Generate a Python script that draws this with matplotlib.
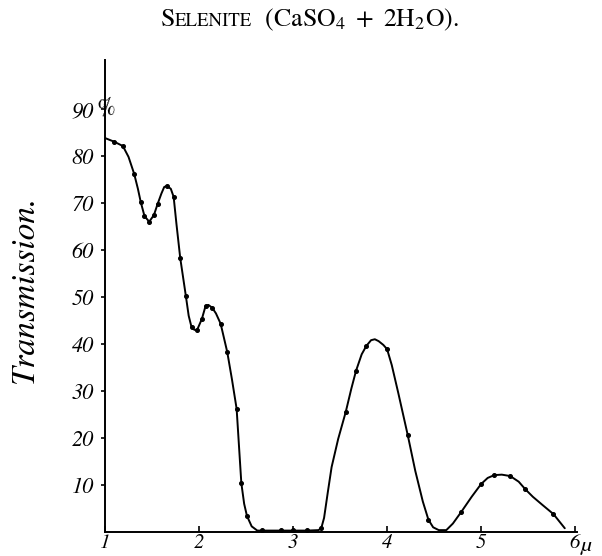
import matplotlib
matplotlib.use("Agg")
import matplotlib.pyplot as plt
from matplotlib.offsetbox import TextArea, HPacker, AnnotationBbox

plt.rcParams['mathtext.fontset'] = 'stix'
plt.rcParams['font.family'] = ['STIXGeneral', 'DejaVu Serif']

# Measured points (dots)
pt_x = [1.10, 1.19, 1.31, 1.38, 1.42, 1.47, 1.52, 1.56, 1.66, 1.73, 1.80, 1.86,
        1.92, 1.98, 2.03, 2.07, 2.14, 2.23, 2.30, 2.40, 2.45, 2.51, 2.67, 2.87,
        3.00, 3.15, 3.30, 3.56, 3.67, 3.78, 4.00, 4.22, 4.44, 4.79, 5.00, 5.14,
        5.31, 5.47, 5.77]
pt_y = [83.0, 82.1, 76.2, 70.2, 67.2, 66.0, 67.4, 69.8, 73.6, 71.3, 58.3, 50.2,
        43.6, 43.0, 45.3, 48.1, 47.7, 44.3, 38.3, 26.2, 10.4, 3.4, 0.4, 0.4,
        0.4, 0.4, 0.8, 25.5, 34.3, 39.6, 38.9, 20.6, 2.6, 4.3, 10.2, 12.1,
        11.9, 9.1, 3.8]

# Drawn curve
curve_x = [1.00, 1.10, 1.19, 1.25, 1.31, 1.35, 1.38, 1.42, 1.47, 1.52, 1.56, 1.60,
           1.63, 1.66, 1.70, 1.73, 1.76, 1.80, 1.86, 1.89, 1.92, 1.95, 1.98, 2.03,
           2.07, 2.10, 2.14, 2.18, 2.23, 2.30, 2.35, 2.40, 2.45, 2.48, 2.51, 2.56,
           2.62, 2.67, 2.87, 3.00, 3.15, 3.27, 3.30, 3.33, 3.37, 3.41, 3.48, 3.56,
           3.62, 3.67, 3.73, 3.78, 3.83, 3.87, 3.91, 3.96, 4.00, 4.05, 4.12, 4.22,
           4.30, 4.38, 4.44, 4.49, 4.55, 4.63, 4.70, 4.79, 4.90, 5.00, 5.07, 5.14,
           5.22, 5.31, 5.40, 5.47, 5.55, 5.65, 5.77, 5.89]
curve_y = [83.8, 83.0, 82.1, 79.8, 76.2, 73.0, 70.2, 67.2, 66.0, 67.4, 69.8, 72.0,
           73.4, 73.6, 73.0, 71.3, 65.5, 58.3, 50.2, 46.0, 43.6, 43.0, 43.0, 45.3,
           48.1, 48.3, 47.7, 46.5, 44.3, 38.3, 32.5, 26.2, 10.4, 6.0, 3.4, 1.2,
           0.3, 0.3, 0.3, 0.3, 0.3, 0.4, 0.8, 3.0, 8.5, 13.8, 19.8, 25.5,
           30.5, 34.3, 37.8, 39.6, 40.8, 41.0, 40.6, 39.8, 38.9, 35.5, 29.5, 20.6,
           13.0, 6.5, 2.6, 1.0, 0.4, 0.4, 1.8, 4.3, 7.5, 10.2, 11.5, 12.1,
           12.2, 11.9, 10.7, 9.1, 7.5, 5.8, 3.8, 0.8]

x_ticks = [1, 2, 3, 4, 5, 6]
x_labels = ["1", "2", "3", "4", "5", "6"]
y_ticks = [10, 20, 30, 40, 50, 60, 70, 80, 90]
y_labels = ["10", "20", "30", "40", "50", "60", "70", "80", "90"]

fig = plt.figure(figsize=(6.02, 5.56), dpi=100)
ax = fig.add_axes([105/602, 24/556, 472/602, 472/556])

ax.plot(curve_x, curve_y, color='black', lw=1.4, solid_capstyle='round',
        solid_joinstyle='round')
ax.plot(pt_x, pt_y, 'o', color='black', ms=2.6)

ax.set_xlim(1, 6.02)
ax.set_ylim(0, 100.4)
for s in ['top', 'right']:
    ax.spines[s].set_visible(False)
for s in ['left', 'bottom']:
    ax.spines[s].set_linewidth(1.4)

ax.set_xticks(x_ticks)
ax.set_xticklabels(x_labels, fontsize=15, style='italic')
ax.set_yticks(y_ticks)
ax.set_yticklabels(y_labels, fontsize=16, style='italic')
ax.tick_params(axis='x', direction='in', length=4, width=1.2, pad=1)
ax.tick_params(axis='y', direction='out', length=3, width=1.2, pad=5)

# "%" after 90 and unit after 6
ax.text(1.01, 90.0, "%", fontsize=17, style='italic', ha='center', va='center',
        rotation=10)
ax.text(6.06, -1.0, "µ", fontsize=15, style='italic', ha='left', va='top',
        clip_on=False)

# y label
fig.text(25/602, 1 - 290/556, "Transmission.", rotation=90, fontsize=24,
         style='italic', ha='center', va='center')

# title with small caps
t1 = TextArea("S", textprops=dict(fontsize=18.5))
t2 = TextArea("ELENITE", textprops=dict(fontsize=13.5))
t3 = TextArea(r"  $\mathrm{(CaSO_4\ +\ 2H_2O).}$", textprops=dict(fontsize=18.5))
box = HPacker(children=[t1, t2, t3], align='baseline', pad=0, sep=0)
ab = AnnotationBbox(box, (310/602, 1 - 20/556), xycoords='figure fraction',
                    frameon=False, box_alignment=(0.5, 0.5))
fig.add_artist(ab)

fig.savefig("out.png", dpi=100)
